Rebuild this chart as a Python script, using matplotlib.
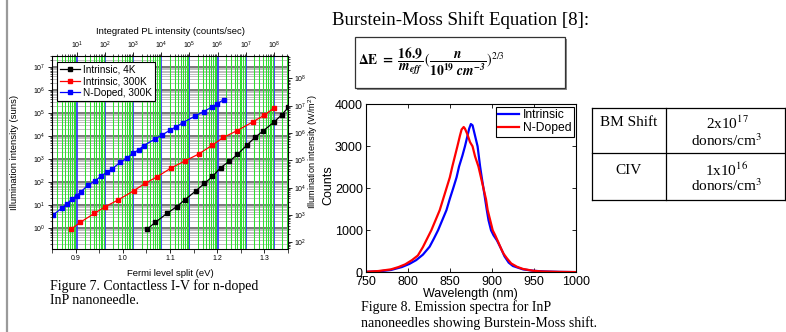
import numpy as np
import matplotlib
matplotlib.use('Agg')
import matplotlib.pyplot as plt
from matplotlib.ticker import LogLocator, MultipleLocator, NullFormatter
from matplotlib.patches import Rectangle
from matplotlib.lines import Line2D

# ---------------- data: Figure 7 (contactless I-V) ----------------
intr4k_ev = [1.051, 1.069, 1.094, 1.114, 1.131, 1.155, 1.173, 1.190, 1.207,
             1.226, 1.243, 1.263, 1.280, 1.298, 1.321, 1.337, 1.351]
intr4k_suns = [0.87, 1.78, 4.37, 8.5, 16.6, 41.7, 87.1, 175, 417, 813, 1580,
               4070, 8710, 17000, 41700, 85100, 178000]
intr300_ev = [0.890, 0.910, 0.940, 0.963, 0.990, 1.023, 1.047, 1.073, 1.103,
              1.131, 1.161, 1.190, 1.213, 1.241, 1.275, 1.300, 1.321]
intr300_suns = [0.87, 1.78, 4.37, 8.5, 16.6, 41.7, 87.1, 170, 417, 813, 1660,
                4070, 8710, 16600, 40700, 81300, 170000]
ndop_ev = [0.853, 0.871, 0.881, 0.892, 0.902, 0.911, 0.927, 0.941, 0.954,
           0.966, 0.977, 0.995, 1.009, 1.022, 1.034, 1.044, 1.068, 1.083,
           1.101, 1.113, 1.127, 1.154, 1.171, 1.190, 1.200, 1.214]
ndop_suns = [3.8, 7.4, 11, 18.2, 25, 37, 76, 110, 182, 263, 372, 724, 1100,
             1820, 2510, 3800, 7410, 11000, 18600, 25100, 38000, 75900,
             115000, 186000, 257000, 380000]
series_labels = ['Intrinsic, 4K', 'Intrinsic, 300K', 'N-Doped, 300K']

# ---------------- data: Figure 8 (emission spectra) ----------------
intr_nm = [750, 769, 780, 793, 802, 810, 818, 826, 831, 836, 841, 846, 850,
           854, 858, 861, 865, 868, 871, 873, 875, 877, 880, 883, 886, 888,
           890, 892, 894, 896, 899, 902, 906, 909, 911, 915, 920, 925, 937,
           950, 963, 980, 1000]
intr_counts = [10, 30, 55, 125, 200, 290, 420, 610, 800, 1000, 1240, 1480,
               1750, 2000, 2260, 2520, 2780, 3000, 3250, 3420, 3530, 3500,
               3250, 3000, 2520, 2250, 2000, 1740, 1480, 1240, 1000, 880,
               760, 640, 560, 380, 230, 150, 70, 35, 20, 10, 5]
ndop_nm = [750, 765, 780, 789, 797, 805, 812, 818, 823, 828, 833, 838, 842,
           846, 850, 853, 856, 859, 862, 864, 866.5, 868, 871, 874, 877, 880,
           884, 887, 890, 893, 895, 898, 901, 904, 908, 911, 914, 918, 923,
           930, 937, 948, 959, 980, 1000]
ndop_counts = [12, 30, 70, 125, 190, 290, 400, 600, 800, 1000, 1240, 1480,
               1740, 2000, 2260, 2520, 2760, 3000, 3250, 3400, 3460, 3420,
               3280, 3100, 3000, 2760, 2520, 2260, 2000, 1740, 1480, 1240,
               1000, 880, 700, 560, 440, 330, 210, 130, 80, 40, 20, 10, 5]
spec_labels = ['Intrinsic', 'N-Doped']

# ---------------- table ----------------
table_rows = [('BM Shift', '2x10$^{17}$', 'donors/cm$^{3}$'),
              ('CIV', '1x10$^{16}$', 'donors/cm$^{3}$')]

plt.rcParams['font.family'] = ['Liberation Sans', 'DejaVu Sans']
plt.rcParams['mathtext.fontset'] = 'custom'
plt.rcParams['mathtext.rm'] = 'Liberation Sans'
plt.rcParams['mathtext.it'] = 'Liberation Sans:italic'
plt.rcParams['mathtext.bf'] = 'Liberation Sans:bold'

W, H = 786, 332
fig = plt.figure(figsize=(W / 100, H / 100), dpi=100)
fig.patch.set_facecolor('white')


def fx(x):
    return x / W


def fy(y):
    return 1 - y / H


def rect(x0, y0, x1, y1):
    return [x0 / W, 1 - y1 / H, (x1 - x0) / W, (y1 - y0) / H]


SERIF = ['Liberation Serif', 'DejaVu Serif']

# gray bar at far left
fig.add_artist(Line2D([fx(7), fx(7)], [0, 1], transform=fig.transFigure,
                      color='#9a9a9a', lw=1.6))

# ================= left chart =================
R1 = rect(52, 56, 288, 248.5)
axb = fig.add_axes(R1, zorder=0)
axb.set_xscale('log')
axb.set_yscale('log')
axb.set_xlim(10 ** 0.124, 10 ** 8.497)
axb.set_ylim(10 ** -0.89, 10 ** 7.48)
axb.xaxis.set_major_locator(LogLocator(base=10, numticks=20))
axb.xaxis.set_minor_locator(LogLocator(base=10, subs=np.arange(2, 10), numticks=100))
axb.xaxis.set_minor_formatter(NullFormatter())
axb.yaxis.set_major_locator(LogLocator(base=10, numticks=20))
axb.yaxis.set_minor_locator(LogLocator(base=10, subs=np.arange(2, 10), numticks=100))
axb.yaxis.set_minor_formatter(NullFormatter())
axb.grid(True, which='major', axis='x', color='#2f2fff', lw=1.2)
axb.grid(True, which='minor', axis='x', color='#2fe02f', lw=0.75)
axb.grid(True, which='major', axis='y', color='#7a7a7a', lw=1.4)
axb.grid(True, which='minor', axis='y', color='#b4b4b4', lw=0.6)
axb.xaxis.set_zorder(2.6)
axb.yaxis.set_zorder(2.4)
axb.xaxis.tick_top()
axb.tick_params(axis='x', which='major', direction='out', length=3, width=0.6,
                labelsize=5, pad=0.6, top=True, bottom=False)
axb.tick_params(axis='x', which='minor', direction='out', length=1.6, width=0.5,
                top=True, bottom=False)
axb.tick_params(axis='y', which='both', left=False, right=False,
                labelleft=False, labelright=False)
for s in axb.spines.values():
    s.set_visible(False)

ax = fig.add_axes(R1, zorder=2)
ax.patch.set_visible(False)
ax.set_yscale('log')
ax.set_xlim(0.85, 1.35)
ax.set_ylim(10 ** -0.89, 10 ** 7.48)
ax.plot(intr4k_ev, intr4k_suns, '-s', color='black', lw=0.9, ms=3.3,
        label=series_labels[0])
ax.plot(intr300_ev, intr300_suns, '-s', color='#ff0000', lw=0.9, ms=3.3,
        label=series_labels[1])
ax.plot(ndop_ev, ndop_suns, '-s', color='#0000ff', lw=0.9, ms=3.3,
        label=series_labels[2])
ax.xaxis.set_major_locator(MultipleLocator(0.1))
ax.xaxis.set_minor_locator(MultipleLocator(0.05))
ax.yaxis.set_major_locator(LogLocator(base=10, numticks=20))
ax.yaxis.set_minor_locator(LogLocator(base=10, subs=np.arange(2, 10), numticks=100))
ax.yaxis.set_minor_formatter(NullFormatter())
ax.tick_params(axis='both', which='major', direction='out', length=3, width=0.6,
               labelsize=5, pad=1.5, top=False, right=False)
ax.tick_params(axis='both', which='minor', direction='out', length=1.6, width=0.5,
               top=False, right=False)
ax.tick_params(axis='x', which='minor', length=2.6)
for s in ax.spines.values():
    s.set_linewidth(0.8)
leg = ax.legend(loc='upper left', fontsize=7.2, frameon=True, fancybox=False,
                edgecolor='black', framealpha=1, borderaxespad=0.55,
                handlelength=1.9, handletextpad=0.35, borderpad=0.3,
                labelspacing=0.15)
leg.get_frame().set_linewidth(0.8)

axr = ax.twinx()
axr.set_zorder(1)
axr.patch.set_visible(False)
axr.set_yscale('log')
axr.set_ylim(10 ** 1.77, 10 ** 8.82)
axr.yaxis.set_major_locator(LogLocator(base=10, numticks=20))
axr.yaxis.set_minor_locator(LogLocator(base=10, subs=np.arange(2, 10), numticks=100))
axr.yaxis.set_minor_formatter(NullFormatter())
axr.tick_params(axis='y', which='major', direction='out', length=3, width=0.6,
                labelsize=5, pad=1.5)
axr.tick_params(axis='y', which='minor', direction='out', length=1.6, width=0.5)
for s in axr.spines.values():
    s.set_visible(False)

fig.text(fx(170), fy(32), 'Integrated PL intensity (counts/sec)', fontsize=6.8,
         ha='center', va='center')
fig.text(fx(170), fy(273), 'Fermi level split (eV)', fontsize=6.8,
         ha='center', va='center')
fig.text(fx(15), fy(152), 'Illumination intensity (suns)', fontsize=6.8,
         ha='center', va='center', rotation=90)
fig.text(fx(313.5), fy(152), 'Illumination intensity (W/m$^2$)', fontsize=6.6,
         ha='center', va='center', rotation=90)
fig.text(fx(50), fy(286), 'Figure 7. Contactless I-V for n-doped', fontsize=10,
         family=SERIF, ha='left', va='center')
fig.text(fx(50), fy(301), 'InP nanoneedle.', fontsize=10,
         family=SERIF, ha='left', va='center')

# ================= middle chart =================
ax2 = fig.add_axes(rect(365.7, 104.3, 576, 272.3))
ax2.plot(intr_nm, intr_counts, color='#0000ff', lw=1.6, label=spec_labels[0])
ax2.plot(ndop_nm, ndop_counts, color='#ff0000', lw=1.6, label=spec_labels[1])
ax2.set_xlim(750, 1000)
ax2.set_ylim(0, 4000)
ax2.xaxis.set_major_locator(MultipleLocator(50))
ax2.yaxis.set_major_locator(MultipleLocator(1000))
ax2.tick_params(axis='both', direction='in', length=3, width=0.6, labelsize=9,
                top=True, right=True, pad=2)
ax2.tick_params(axis='x', pad=2.8)
for s in ax2.spines.values():
    s.set_linewidth(0.8)
leg2 = ax2.legend(loc='upper right', fontsize=8.7, frameon=True, fancybox=False,
                  edgecolor='black', framealpha=1, borderaxespad=0.2,
                  handlelength=1.7, handletextpad=0.3, borderpad=0.2,
                  labelspacing=0.1)
leg2.get_frame().set_linewidth(0.8)
fig.text(fx(328), fy(185), 'Counts', fontsize=9, ha='center', va='center',
         rotation=90)
fig.text(fx(470), fy(293.5), 'Wavelength (nm)', fontsize=9, ha='center',
         va='center')
fig.text(fx(361), fy(307.5), 'Figure 8. Emission spectra for InP', fontsize=10,
         family=SERIF, ha='left', va='center')
fig.text(fx(361), fy(323), 'nanoneedles showing Burstein-Moss shift.',
         fontsize=10, family=SERIF, ha='left', va='center')

# ================= title & equation =================
fig.text(fx(332), fy(20), 'Burstein-Moss Shift Equation [8]:', fontsize=13.6,
         family=SERIF, ha='left', va='center')
fig.add_artist(Rectangle((fx(357), fy(90)), (565 - 355) / W, (88 - 37) / H,
                         transform=fig.transFigure, facecolor='#8a8a8a',
                         edgecolor='none', zorder=1))
fig.add_artist(Rectangle((fx(355), fy(88)), (565 - 355) / W, (88 - 37) / H,
                         transform=fig.transFigure, facecolor='white',
                         edgecolor='#333333', lw=0.9, zorder=2))
eq = (r'$\mathbf{\Delta E}\ \mathbf{=}\ \dfrac{\mathbf{16.9}}{\mathbfit{m_{eff}}}'
      r'\,(\dfrac{\mathbfit{n}}{\mathbf{10^{19}}\ \mathbfit{cm^{-3}}})^{2/3}$')
fig.text(fx(431), fy(62), eq, fontsize=9.8, math_fontfamily='stix',
         ha='center', va='center', zorder=3)

# ================= table =================
tl = dict(transform=fig.transFigure, color='black', lw=0.9)
x0, x1, xm = 592, 785, 666
y0, y1, ym = 108.3, 200, 153.3
for (a, b, c, d) in [(x0, y0, x1, y0), (x0, y1, x1, y1), (x0, ym, x1, ym),
                     (x0, y0, x0, y1), (x1, y0, x1, y1), (xm, y0, xm, y1)]:
    fig.add_artist(Line2D([fx(a), fx(c)], [fy(b), fy(d)], **tl))
row_y = [(123, 140.7), (170, 185.7)]
for (name, val, unit), (ya, yb) in zip(table_rows, row_y):
    fig.text(fx(629), fy(ya), name, fontsize=11, family=SERIF,
             math_fontfamily='stix', ha='center', va='center')
    fig.text(fx(727), fy(ya), val, fontsize=11, family=SERIF,
             math_fontfamily='stix', ha='center', va='center')
    fig.text(fx(727), fy(yb), unit, fontsize=11, family=SERIF,
             math_fontfamily='stix', ha='center', va='center')

fig.savefig('out.png', dpi=100)
